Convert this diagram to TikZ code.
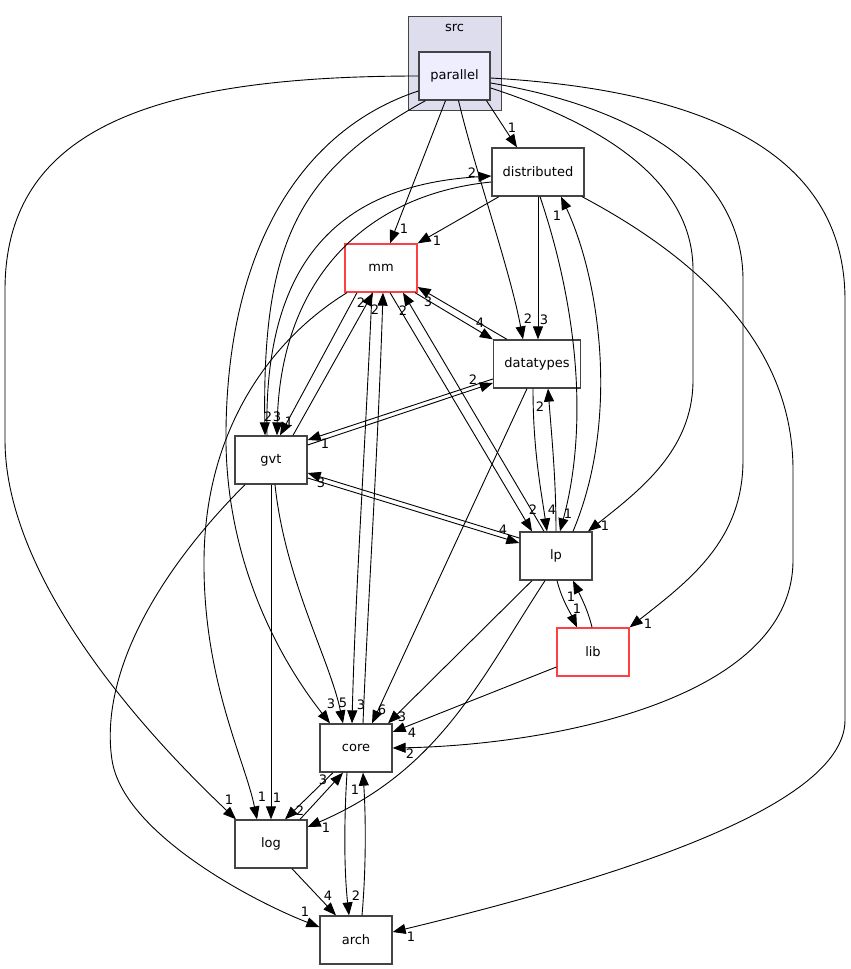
\documentclass[tikz,border=0pt]{standalone}
\usepackage{fontspec}
\setmainfont{DejaVu Sans}
\usetikzlibrary{arrows.meta}

\definecolor{nodegray}{HTML}{444444}
\definecolor{nodered}{HTML}{FF4040}
\definecolor{srcfill}{HTML}{DDDDEE}
\definecolor{topfill}{HTML}{EEEEFF}

\begin{document}
\begin{tikzpicture}[x=1pt, y=-1pt]
        % Define node styles
        \tikzstyle{dirbox} = [draw=nodegray, line width=1.3pt, rectangle, minimum width=72pt, minimum height=48pt, inner sep=0pt, align=center, font=\fontsize{13}{15}\selectfont]
        \tikzstyle{redbox} = [dirbox, draw=nodered]
        \tikzstyle{cluster} = [draw=nodegray, fill=srcfill, line width=1pt, rectangle, minimum width=93pt, minimum height=94pt, inner sep=0pt]
        \tikzstyle{dep} = [-{Stealth[length=13pt, width=10pt, inset=0pt]}, line width=0.9pt]
        \tikzstyle{num} = [inner sep=0pt, font=\fontsize{13}{15}\selectfont]

        \useasboundingbox (0,0) rectangle (851,969);

        % Draw the nodes
        \node[cluster] (src) at (454.5,63) {};
        \node[num] (srclabel) at (454.5,28) {src};
        \node[dirbox, fill=topfill, minimum width=71pt] (parallel) at (454.5,76) {parallel};
        \node[dirbox, minimum width=92pt] (distributed) at (538,172) {distributed};
        \node[redbox] (mm) at (381,268) {mm};
        \node[dirbox, minimum width=87pt] (datatypes) at (537,364) {datatypes};
        \node[dirbox] (gvt) at (271,460) {gvt};
        \node[dirbox] (lp) at (556,556) {lp};
        \node[redbox] (lib) at (593,652) {lib};
        \node[dirbox] (core) at (356,748) {core};
        \node[dirbox] (log) at (271,844) {log};
        \node[dirbox] (arch) at (356,940) {arch};

        % from parallel
        \draw[dep] ([xshift=32pt]parallel.south) -- ([xshift=-21pt]distributed.north)
            node[num] at (512,128) {1};
        \draw[dep] ([xshift=-9pt]parallel.south) -- ([xshift=9pt]mm.north)
            node[num] at (404,229) {1};
        \draw[dep] ([xshift=4pt]parallel.south) .. controls (475,170) and (510,270) .. ([xshift=-14pt]datatypes.north)
            node[num] at (528,319) {2};
        \draw[dep] ([xshift=-29pt]parallel.south) .. controls (300,170) and (262,240) .. ([xshift=-6pt]gvt.north)
            node[num] at (268,417) {2};
        \draw[dep] ([yshift=-15pt]parallel.west) .. controls (300,130) and (228,250) .. (226,430)
            .. controls (224,560) and (280,660) .. ([xshift=-26pt]core.north)
            node[num] at (331,704) {3};
        \draw[dep] (parallel.west) .. controls (150,76) and (5,130) .. (5,290) -- (5,440)
            .. controls (5,560) and (110,700) .. ([xshift=-35pt]log.north)
            node[num] at (229,800) {1};
        \draw[dep] ([yshift=-12pt]parallel.east) .. controls (620,130) and (693,190) .. (693,270) -- (693,380)
            .. controls (693,450) and (640,490) .. ([xshift=32pt]lp.north)
            node[num] at (605,526) {1};
        \draw[dep] ([yshift=-7pt]parallel.east) .. controls (650,110) and (743,180) .. (743,280) -- (743,460)
            .. controls (743,540) and (690,580) .. (lib.north east)
            node[num] at (648,624) {1};
        \draw[dep] ([yshift=-2pt]parallel.east) .. controls (700,90) and (845,150) .. (845,300) -- (845,720)
            .. controls (845,800) and (650,870) .. ([yshift=8pt]arch.east)
            node[num] at (411,937) {1};

        % from distributed
        \draw[dep] ([xshift=-39pt]distributed.south) -- (mm.north east)
            node[num] at (437,241) {1};
        \draw[dep] (distributed.south) -- ([xshift=1pt]datatypes.north)
            node[num] at (544,320) {3};
        \draw[dep] ([xshift=2pt]distributed.south) .. controls (575,300) and (590,420) .. ([xshift=4pt]lp.north)
            node[num] at (568,514) {1};
        \draw[dep] ([xshift=44pt]distributed.south) .. controls (720,270) and (793,360) .. (793,470) -- (793,560)
            .. controls (793,700) and (550,745) .. (core.east)
            node[num] at (410,754) {2};
        \draw[dep] ([yshift=-10pt]distributed.west) .. controls (360,195) and (280,285) .. ([xshift=6pt]gvt.north)
            node[num] at (277,417) {3};

        % from mm
        \draw[dep] ([xshift=34pt]mm.south) -- (datatypes.north west)
            node[num] at (480,323) {4};
        \draw[dep] ([xshift=-24pt]mm.south) -- ([xshift=9pt]gvt.north)
            node[num] at (289,422) {1};
        \draw[dep] ([xshift=-34pt]mm.south) .. controls (270,340) and (205,430) .. (204,560)
            .. controls (203,680) and (245,760) .. ([xshift=-14pt]log.north)
            node[num] at (262,797) {1};
        \draw[dep] ([xshift=9pt]mm.south) -- ([xshift=-24pt]lp.north)
            node[num] at (533,510) {2};
        \draw[dep] ([xshift=-9pt]mm.south) .. controls (365,450) and (355,600) .. ([xshift=-4pt]core.north)
            node[num] at (361,705) {3};

        % from datatypes
        \draw[dep] ([xshift=-30pt]datatypes.north) -- ([yshift=-19pt]mm.east)
            node[num] at (428,302) {3};
        \draw[dep] ([yshift=-15pt]datatypes.west) -- ([yshift=20pt]gvt.east)
            node[num] at (325,444) {1};
        \draw[dep] ([xshift=-10pt]datatypes.south) -- ([xshift=16pt]core.north)
            node[num] at (382,710) {6};
        \draw[dep] ([xshift=-4pt]datatypes.south) .. controls (533,450) and (541,490) .. ([xshift=-9pt]lp.north)
            node[num] at (552,510) {4};

        % from gvt
        \draw[dep] ([xshift=-4pt]gvt.north) .. controls (263,260) and (340,185) .. ([yshift=-4pt]distributed.west)
            node[num] at (472,173) {2};
        \draw[dep] ([xshift=22pt]gvt.north) -- ([xshift=-8pt]mm.south)
            node[num] at (361,303) {2};
        \draw[dep] ([yshift=15pt]gvt.east) -- ([yshift=-19pt]datatypes.west)
            node[num] at (473,380) {2};
        \draw[dep] ([yshift=-18pt]gvt.east) -- ([yshift=13pt]lp.west)
            node[num] at (503,530) {4};
        \draw[dep] (gvt.south) -- (log.north)
            node[num] at (277,798) {1};
        \draw[dep] ([xshift=4pt]gvt.south) .. controls (285,580) and (330,660) .. ([xshift=-13pt]core.north)
            node[num] at (343,703) {5};
        \draw[dep] ([xshift=-26pt]gvt.south) .. controls (150,580) and (100,680) .. (112,760)
            .. controls (123,832) and (250,900) .. ([yshift=13pt]arch.west)
            node[num] at (305,912) {1};

        % from lp
        \draw[dep] ([xshift=17pt]lp.north) .. controls (620,420) and (600,280) .. ([xshift=23pt]distributed.south)
            node[num] at (557,216) {1};
        \draw[dep] ([xshift=-12pt]lp.north) -- ([xshift=22pt]mm.south)
            node[num] at (403,311) {2};
        \draw[dep] (lp.north) .. controls (556,480) and (552,440) .. ([xshift=11pt]datatypes.south)
            node[num] at (540,407) {2};
        \draw[dep] ([yshift=18pt]lp.west) -- ([yshift=-13pt]gvt.east)
            node[num] at (321,483) {3};
        \draw[dep] ([xshift=-24pt]lp.south) -- ([xshift=32pt]core.north)
            node[num] at (402,717) {3};
        \draw[dep] ([xshift=-11pt]lp.south) .. controls (480,680) and (440,770) .. ([yshift=17pt]log.east)
            node[num] at (326,828) {1};
        \draw[dep] ([xshift=1pt]lp.south) .. controls (562,600) and (570,612) .. ([xshift=-16pt]lib.north)
            node[num] at (577,609) {1};

        % from lib
        \draw[dep] ([xshift=-1pt]lib.north) .. controls (588,610) and (580,595) .. ([xshift=17pt]lp.south)
            node[num] at (571,597) {1};
        \draw[dep] ([yshift=-15pt]lib.west) -- ([yshift=16pt]core.east)
            node[num] at (412,733) {4};

        % from core
        \draw[dep] ([xshift=7pt]core.north) .. controls (368,600) and (378,450) .. ([xshift=2pt]mm.south)
            node[num] at (375,310) {2};
        \draw[dep] ([xshift=-23pt]core.south) -- ([xshift=14pt]log.north)
            node[num] at (300,811) {2};
        \draw[dep] ([xshift=-9pt]core.south) .. controls (344,820) and (344,870) .. ([xshift=-7pt]arch.north)
            node[num] at (356,896) {2};

        % from log and arch
        \draw[dep] ([xshift=29pt]log.north) -- ([xshift=-13pt]core.south)
            node[num] at (323,780) {3};
        \draw[dep] ([xshift=21pt]log.south) -- ([xshift=-20pt]arch.north)
            node[num] at (328,896) {4};
        \draw[dep] ([xshift=6pt]arch.north) .. controls (366,870) and (366,820) .. ([xshift=7pt]core.south)
            node[num] at (355,790) {1};
\end{tikzpicture}
\end{document}
